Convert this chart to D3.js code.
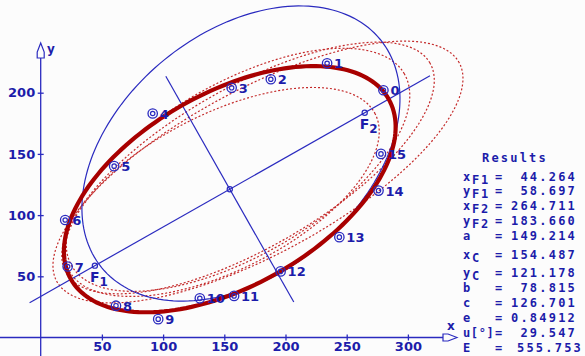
<!DOCTYPE html>
<html><head><meta charset="utf-8">
<script src="https://cdn.jsdelivr.net/npm/d3@7"></script>
<style>
html,body{margin:0;padding:0;background:#fcfcfc;}
svg{display:block;}
text{font-family:"DejaVu Sans",sans-serif;font-weight:bold;fill:#1c1caa;}
</style></head>
<body>
<svg id="c" width="585" height="356"></svg>
<script>
// ---- data ----
const pointIds = [0,1,2,3,4,5,6,7,8,9,10,11,12,13,14,15];
const pointX = [280,234,188,156,91.5,60,20,22,61.5,96,130,158,196,244,276,278];
const pointY = [202,224,211,204,183,140,96,58,26,15,32,34,54,82,120,150];
const xTicks = [50,100,150,200,250,300];
const yTicks = [50,100,150,200];
// fitted ellipse (results)
const focus1 = [44.264, 58.697];
const focus2 = [264.711, 183.660];
const center = [154.487, 121.178];
const semiA = 149.214, semiB = 78.815, angleDeg = 29.547;
// initial (blue) ellipse: cx, cy, a, b, angle
const startEllipse = [163.6, 150.3, 147.1, 98.9, 39.3];
// intermediate (dotted) ellipses: cx, cy, a, b, angle
const iterCx = [177.5, 169.4, 161.2, 148.1];
const iterCy = [135.2, 138.5, 137.0, 118.9];
const iterA  = [187.1, 171.6, 156.9, 140.5];
const iterB  = [67.0, 65.4, 70.3, 63.7];
const iterAng= [28.5, 30, 30, 27];
// axis lines of fitted ellipse (half-lengths in data units)
const majorHalf = 188, minorHalf = 106;
// results panel
const resLabels = [["x","F1"],["y","F1"],["x","F2"],["y","F2"],["a",""],["x","C"],["y","C"],["b",""],["c",""],["e",""],["u[°]",""],["E",""]];
const resValues = ["44.264","58.697","264.711","183.660","149.214","154.487","121.178","78.815","126.701","0.84912","29.547","555.753"];

// ---- scales ----
const x = d3.scaleLinear().domain([0,300]).range([40.7, 40.7+367.2]);
const y = d3.scaleLinear().domain([0,200]).range([337.5, 337.5-244.8]);
const svg = d3.select("#c");
const blue = "#2a2abf", txt = "#1c1caa";

function ellipsePts(cx,cy,a,b,deg){
  const t = deg*Math.PI/180, c=Math.cos(t), s=Math.sin(t);
  return d3.range(0,361,2).map(d=>{const u=d*Math.PI/180;
    return [cx + a*Math.cos(u)*c - b*Math.sin(u)*s, cy + a*Math.cos(u)*s + b*Math.sin(u)*c];});
}
const line = d3.line().x(d=>x(d[0])).y(d=>y(d[1])).curve(d3.curveLinear);

// axes
const ax = svg.append("g");
ax.append("line").attr("x1",0).attr("x2",444).attr("y1",y(0)).attr("y2",y(0)).attr("stroke",blue).attr("stroke-width",1.3);
ax.append("line").attr("x1",x(0)).attr("x2",x(0)).attr("y1",356).attr("y2",58).attr("stroke",blue).attr("stroke-width",1.3);
ax.append("path").attr("d",`M${x(0)},43 L${x(0)+3.5},52 L${x(0)+3.5},58 L${x(0)-3.5},58 L${x(0)-3.5},52 Z`).attr("fill","#fcfcfc").attr("stroke",blue).attr("stroke-width",1.2);
ax.append("path").attr("d",`M457,${y(0)} L448,${y(0)-3.5} L443,${y(0)-3.5} L443,${y(0)+3.5} L448,${y(0)+3.5} Z`).attr("fill","#fcfcfc").attr("stroke",blue).attr("stroke-width",1.2);
ax.append("text").attr("x",447).attr("y",330).attr("font-size",12).text("x");
ax.append("text").attr("x",47).attr("y",53).attr("font-size",12).text("y");
const xa = svg.append("g").attr("transform",`translate(0,${y(0)})`)
  .call(d3.axisBottom(x).tickValues(xTicks).tickSize(3).tickFormat(d3.format("d")));
xa.select(".domain").remove();
xa.selectAll(".tick line").attr("y1",-3).attr("y2",3).attr("stroke",blue).attr("stroke-width",1.3);
xa.selectAll(".tick text").attr("y",13.3).attr("dy",0).attr("font-size",13).attr("font-family","DejaVu Sans").attr("font-weight","bold").attr("fill",txt);
const ya = svg.append("g").attr("transform",`translate(${x(0)},0)`)
  .call(d3.axisLeft(y).tickValues(yTicks).tickSize(3).tickPadding(2.5).tickFormat(d3.format("d")));
ya.select(".domain").remove();
ya.selectAll(".tick line").attr("x1",-3).attr("x2",3).attr("stroke",blue).attr("stroke-width",1.3);
ya.selectAll(".tick text").attr("font-size",13).attr("font-family","DejaVu Sans").attr("font-weight","bold").attr("fill",txt);

// dotted iteration ellipses
iterCx.forEach((cx,i)=>{
  svg.append("path").attr("d",line(ellipsePts(cx,iterCy[i],iterA[i],iterB[i],iterAng[i])))
    .attr("fill","none").attr("stroke","#c42a2a").attr("stroke-width",1.2).attr("stroke-dasharray","2,2");
});
// start ellipse (blue)
svg.append("path").attr("d",line(ellipsePts(...startEllipse))).attr("fill","none").attr("stroke",blue).attr("stroke-width",1.2);
// axis lines of fitted ellipse
const tr = angleDeg*Math.PI/180, ct=Math.cos(tr), st=Math.sin(tr);
svg.append("path").attr("d",line([[center[0]-majorHalf*ct,center[1]-majorHalf*st],[center[0]+majorHalf*ct,center[1]+majorHalf*st]]))
  .attr("stroke",blue).attr("stroke-width",1.2).attr("fill","none");
svg.append("path").attr("d",line([[center[0]+minorHalf*st,center[1]-minorHalf*ct],[center[0]-minorHalf*st,center[1]+minorHalf*ct]]))
  .attr("stroke",blue).attr("stroke-width",1.2).attr("fill","none");
// fitted ellipse (thick red)
svg.append("path").attr("d",line(ellipsePts(center[0],center[1],semiA,semiB,angleDeg)))
  .attr("fill","none").attr("stroke","#a80000").attr("stroke-width",4.2);

// focus and center markers
[focus1,focus2,center].forEach(p=>{
  svg.append("circle").attr("cx",x(p[0])).attr("cy",y(p[1])).attr("r",2.6).attr("fill","none").attr("stroke",blue).attr("stroke-width",1.2);
});
[[focus1,"1"],[focus2,"2"]].forEach(([p,s])=>{
  const t = svg.append("text").attr("x",x(p[0])-5).attr("y",y(p[1])+16).attr("font-size",14);
  t.append("tspan").text("F");
  t.append("tspan").attr("dy",4).attr("font-size",12).text(s);
});

// data points
const pts = svg.append("g");
pointIds.forEach((id,i)=>{
  const cx=x(pointX[i]), cy=y(pointY[i]);
  pts.append("circle").attr("cx",cx).attr("cy",cy).attr("r",4.7).attr("fill","none").attr("stroke",blue).attr("stroke-width",1.3);
  pts.append("circle").attr("cx",cx).attr("cy",cy).attr("r",2.2).attr("fill","none").attr("stroke",blue).attr("stroke-width",1.2);
  pts.append("text").attr("x",cx+7).attr("y",cy+5).attr("font-size",13).text(id);
});

// results panel
const mono = "'DejaVu Sans Mono',monospace";
const rp = svg.append("g");
rp.append("text").attr("x",515).attr("y",162).attr("text-anchor","middle").attr("font-size",12).style("font-family",mono).attr("letter-spacing",2.2).text("Results");
const baseY = [181,195,210,225,240,259,277,292,307,322,337,352];
resLabels.forEach((lab,i)=>{
  const t = rp.append("text").attr("x",463).attr("y",baseY[i]).attr("font-size",12).style("font-family",mono).attr("letter-spacing",lab[0].length>1?0.6:1.8);
  t.append("tspan").text(lab[0]);
  if(lab[1]) t.append("tspan").attr("dy",3).text(lab[1]);
  rp.append("text").attr("x",495).attr("y",baseY[i]).attr("font-size",12).style("font-family",mono).text("=");
  rp.append("text").attr("x", i===11 ? 583 : 577).attr("y",baseY[i]).attr("text-anchor","end").attr("font-size",12).style("font-family",mono).attr("letter-spacing",2.2).text(resValues[i]);
});
</script>
</body></html>
